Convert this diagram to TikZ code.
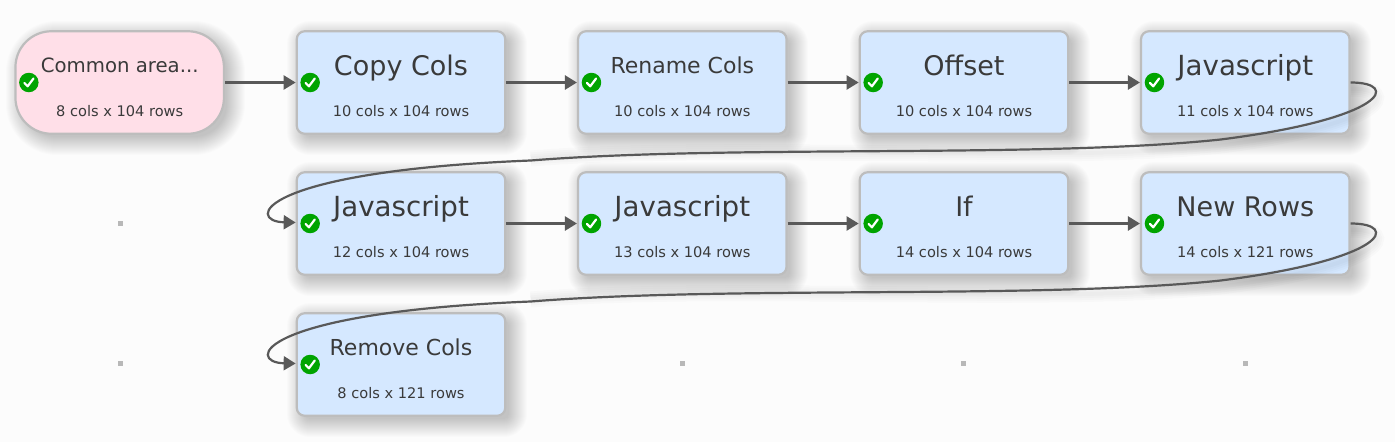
\documentclass[tikz,border=0pt]{standalone}
\usepackage{fontspec}
\setmainfont{DejaVu Sans}
\usetikzlibrary{arrows.meta,calc}
\definecolor{bluefill}{HTML}{D5E8FF}
\definecolor{pinkfill}{HTML}{FFDFE8}
\definecolor{edgegrey}{HTML}{BDBDBD}
\definecolor{linegrey}{HTML}{595959}
\definecolor{txt}{HTML}{3A3A3A}
\definecolor{okgreen}{HTML}{00A400}
\definecolor{bgc}{HTML}{FCFCFC}
\tikzset{
 x=1pt,y=-1pt,
 boxbase/.style={minimum width=208.5pt,minimum height=102.5pt,inner sep=0pt,line width=2.2pt,draw=edgegrey},
 bluebox/.style={boxbase,fill=bluefill,rounded corners=8pt},
 pinkbox/.style={boxbase,fill=pinkfill,rounded corners=36pt},
 link/.style={draw=linegrey,line width=2.4pt,-{Triangle[length=12pt,width=14pt]}},
 curvelink/.style={link,line width=2.2pt},
 titlebig/.style={font=\fontsize{27}{28}\selectfont,text=txt,inner sep=0pt,anchor=base},
 titlejs/.style={font=\fontsize{27.7}{28}\selectfont,text=txt,inner sep=0pt,anchor=base},
 titlemid/.style={font=\fontsize{22}{24}\selectfont,text=txt,inner sep=0pt,anchor=base},
 titlesmall/.style={font=\fontsize{19.7}{24}\selectfont,text=txt,inner sep=0pt,anchor=base},
 subtext/.style={font=\fontsize{14.6}{16}\selectfont,text=txt,inner sep=0pt,anchor=base},
 okicon/.style={circle,fill=okgreen,minimum size=19.5pt,inner sep=0pt},
 checkline/.style={draw=white,line width=2.2pt,line cap=round,line join=round},
 dotmark/.style={fill=black!28,minimum size=5pt,inner sep=0pt,rectangle},
}
% soft shadow: #1 x1, #2 y1, #3 x2, #4 y2, #5 corner radius
\newcommand{\softshadow}[5]{%
 \foreach \g in {-3,-2,...,15}{%
  \pgfmathsetmacro{\rr}{max(#5+\g,2)}%
  \fill[black,opacity=0.011,rounded corners=\rr pt]
   (#1+5-\g,#2+5-\g) rectangle (#3+6+\g,#4+6+\g);}}
\newcommand{\flowbox}[7]{%
 \node[#4] (#1) at (#2,#3) {};
 \node[#5] (#1t) at (#2,#3-#7) {#6};
}
\newcommand{\sublabel}[4]{\node[subtext] (#1s) at (#2,#3+33.5) {#4};}
\newcommand{\okmark}[1]{%
 \node[okicon] (#1i) at ($(#1.west)+(14.5,0)$) {};
 \draw[checkline] ($(#1i)+(-4.5,0.5)$) -- ($(#1i)+(-1.2,3.8)$) -- ($(#1i)+(4.6,-4)$);
}
\newcommand{\wrapshadow}[2]{%
 \foreach \w in {16,12,8,4}{%
 \draw[black,opacity=0.014,line width=\w pt] ($(#1.east)+(0,6)$)
   .. controls ($(#1.east)+(50,6)$) and ($(#1.east)+(36,42)$) .. ($(#1.east)+(-130,63)$)
   .. controls ($(#1.east)+(-310,82)$) and ($(#1.east)+(-620,60)$) .. ($(#1.east)+(-820,76)$);}
}
\newcommand{\wraplink}[2]{%
 \draw[curvelink] (#1.east)
   .. controls ($(#1.east)+(50,0)$) and ($(#1.east)+(36,36)$) .. ($(#1.east)+(-130,57)$)
   .. controls ($(#1.east)+(-310,76)$) and ($(#1.east)+(-620,62)$) .. ($(#1.east)+(-820,78)$)
   .. controls ($(#2.west)+(-40,-52)$) and ($(#2.west)+(-50,-2)$) .. ([yshift=1pt]#2.west);
}
\begin{document}
\begin{tikzpicture}
\useasboundingbox (0,0) rectangle (1395,442);
\fill[bgc] (0,0) rectangle (1395,442);

\softshadow{16}{31}{224}{134}{36}
\foreach \cx in {297,578,860,1141}{\softshadow{\cx}{31}{\cx+209}{134}{8}}
\foreach \cx in {297,578,860,1141}{\softshadow{\cx}{172}{\cx+209}{275}{8}}
\softshadow{297}{313}{506}{416}{8}

\node[dotmark] (d1) at (120.5,223.5) {};
\node[dotmark] (d2) at (120.5,363.5) {};
\node[dotmark] (d3) at (682.5,363.5) {};
\node[dotmark] (d4) at (963.5,363.5) {};
\node[dotmark] (d5) at (1245.5,363.5) {};

\flowbox{a}{119.7}{82.5}{pinkbox}{titlesmall}{Common area...}{9.8}
\flowbox{b}{401}{82.5}{bluebox}{titlebig}{Copy Cols}{7.5}
\flowbox{c}{682.3}{82.5}{bluebox}{titlemid}{Rename Cols}{9.5}
\flowbox{d}{964}{82.5}{bluebox}{titlebig}{Offset}{7.5}
\flowbox{e}{1245.3}{82.5}{bluebox}{titlejs}{Javascript}{7.5}
\flowbox{f}{401}{223.5}{bluebox}{titlejs}{Javascript}{7.5}
\flowbox{g}{682.3}{223.5}{bluebox}{titlejs}{Javascript}{7.5}
\flowbox{h}{964}{223.5}{bluebox}{titlebig}{If}{7.5}
\flowbox{k}{1245.3}{223.5}{bluebox}{titlebig}{New Rows}{7.5}
\flowbox{m}{401}{364.5}{bluebox}{titlemid}{Remove Cols}{9.5}

\sublabel{a}{119.7}{82.5}{8 cols x 104 rows}
\sublabel{b}{401}{82.5}{10 cols x 104 rows}
\sublabel{c}{682.3}{82.5}{10 cols x 104 rows}
\sublabel{d}{964}{82.5}{10 cols x 104 rows}
\sublabel{e}{1245.3}{82.5}{11 cols x 104 rows}
\sublabel{f}{401}{223.5}{12 cols x 104 rows}
\sublabel{g}{682.3}{223.5}{13 cols x 104 rows}
\sublabel{h}{964}{223.5}{14 cols x 104 rows}
\sublabel{k}{1245.3}{223.5}{14 cols x 121 rows}
\sublabel{m}{401}{364.5}{8 cols x 121 rows}

\draw[link] (a.east) -- (b.west);
\draw[link] (b.east) -- (c.west);
\draw[link] (c.east) -- (d.west);
\draw[link] (d.east) -- (e.west);
\draw[link] (f.east) -- (g.west);
\draw[link] (g.east) -- (h.west);
\draw[link] (h.east) -- (k.west);

\wrapshadow{e}{f}
\wrapshadow{k}{m}
\wraplink{e}{f}
\wraplink{k}{m}

\foreach \n in {a,b,c,d,e,f,g,h,k,m}{\okmark{\n}}
\end{tikzpicture}
\end{document}
